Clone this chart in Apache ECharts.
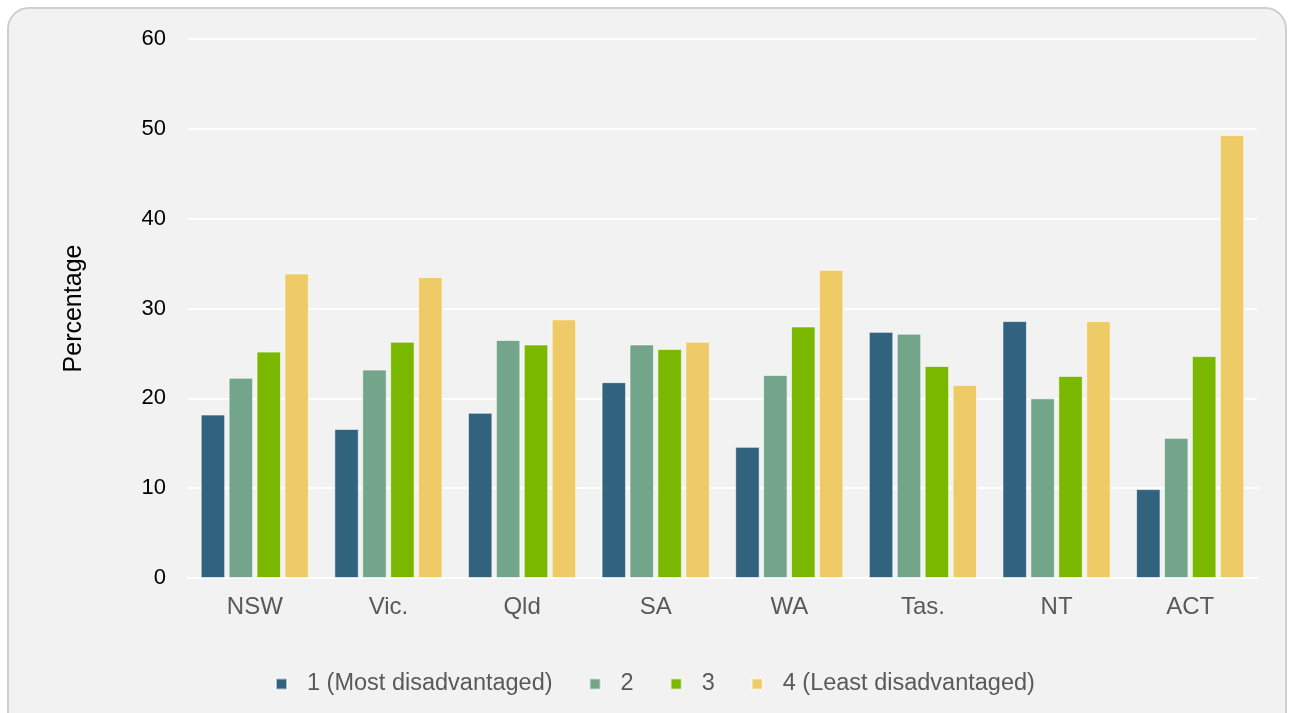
<!DOCTYPE html>
<html>
<head>
<meta charset="utf-8">
<script src="https://cdn.jsdelivr.net/npm/echarts@6/dist/echarts.min.js"></script>
<style>
html,body{margin:0;padding:0;background:#ffffff;width:1294px;height:713px;overflow:hidden;}
#frame{position:absolute;left:7px;top:7px;width:1276px;height:730px;border:2px solid #cfcfcf;border-radius:22px;background:#f2f2f2;}
#chart{position:absolute;left:0;top:0;width:1294px;height:713px;}
</style>
</head>
<body>
<div id="frame"></div>
<div id="chart"></div>
<script>
const categories = ['NSW','Vic.','Qld','SA','WA','Tas.','NT','ACT'];
const seriesNames = ['1 (Most disadvantaged)','2','3','4 (Least disadvantaged)'];
const q1 = [18.2,16.6,18.4,21.8,14.6,27.4,28.6,9.9];
const q2 = [22.3,23.2,26.5,26.0,22.6,27.2,20.0,15.6];
const q3 = [25.2,26.3,26.0,25.5,28.0,23.6,22.5,24.7];
const q4 = [33.9,33.5,28.8,26.3,34.3,21.5,28.6,49.3];
const colors = ['#31637f','#72a58a','#7ab800','#eecb66'];
const values = [q1,q2,q3,q4];

const chart = echarts.init(document.getElementById('chart'), null, {renderer:'canvas'});
const font = 'Liberation Sans, Arial, sans-serif';
chart.setOption({
  backgroundColor: 'transparent',
  animation: false,
  grid: {left:188, right:37, top:39, bottom:135},
  legend: {
    top: 667,
    left: 270,
    itemWidth: 11, itemHeight: 11, itemGap: 36,
    icon: 'rect',
    textStyle: {fontFamily: font, fontSize: 23.5, color: '#595959', padding:[0,0,0,15]},
    data: seriesNames
  },
  xAxis: {
    type: 'category',
    data: categories,
    axisLine: {show: true, lineStyle: {color: '#ffffff', width: 2}},
    axisTick: {show: false},
    axisLabel: {fontFamily: font, fontSize: 24, color: '#595959', margin: 17}
  },
  yAxis: {
    type: 'value',
    min: 0, max: 60, interval: 10,
    name: 'Percentage',
    nameLocation: 'middle',
    nameGap: 101,
    nameTextStyle: {fontFamily: font, fontSize: 25, color: '#000000'},
    axisLine: {show: false},
    axisTick: {show: false},
    axisLabel: {fontFamily: font, fontSize: 22, color: '#000000', margin: 22},
    splitLine: {lineStyle: {color: '#ffffff', width: 2}}
  },
  series: values.map((v, i) => ({
    name: seriesNames[i],
    type: 'bar',
    data: v,
    barGap: '14%',
    barCategoryGap: '19%',
    itemStyle: {color: colors[i], borderColor: 'rgba(255,255,255,0.6)', borderWidth: 1}
  }))
});
</script>
</body>
</html>
